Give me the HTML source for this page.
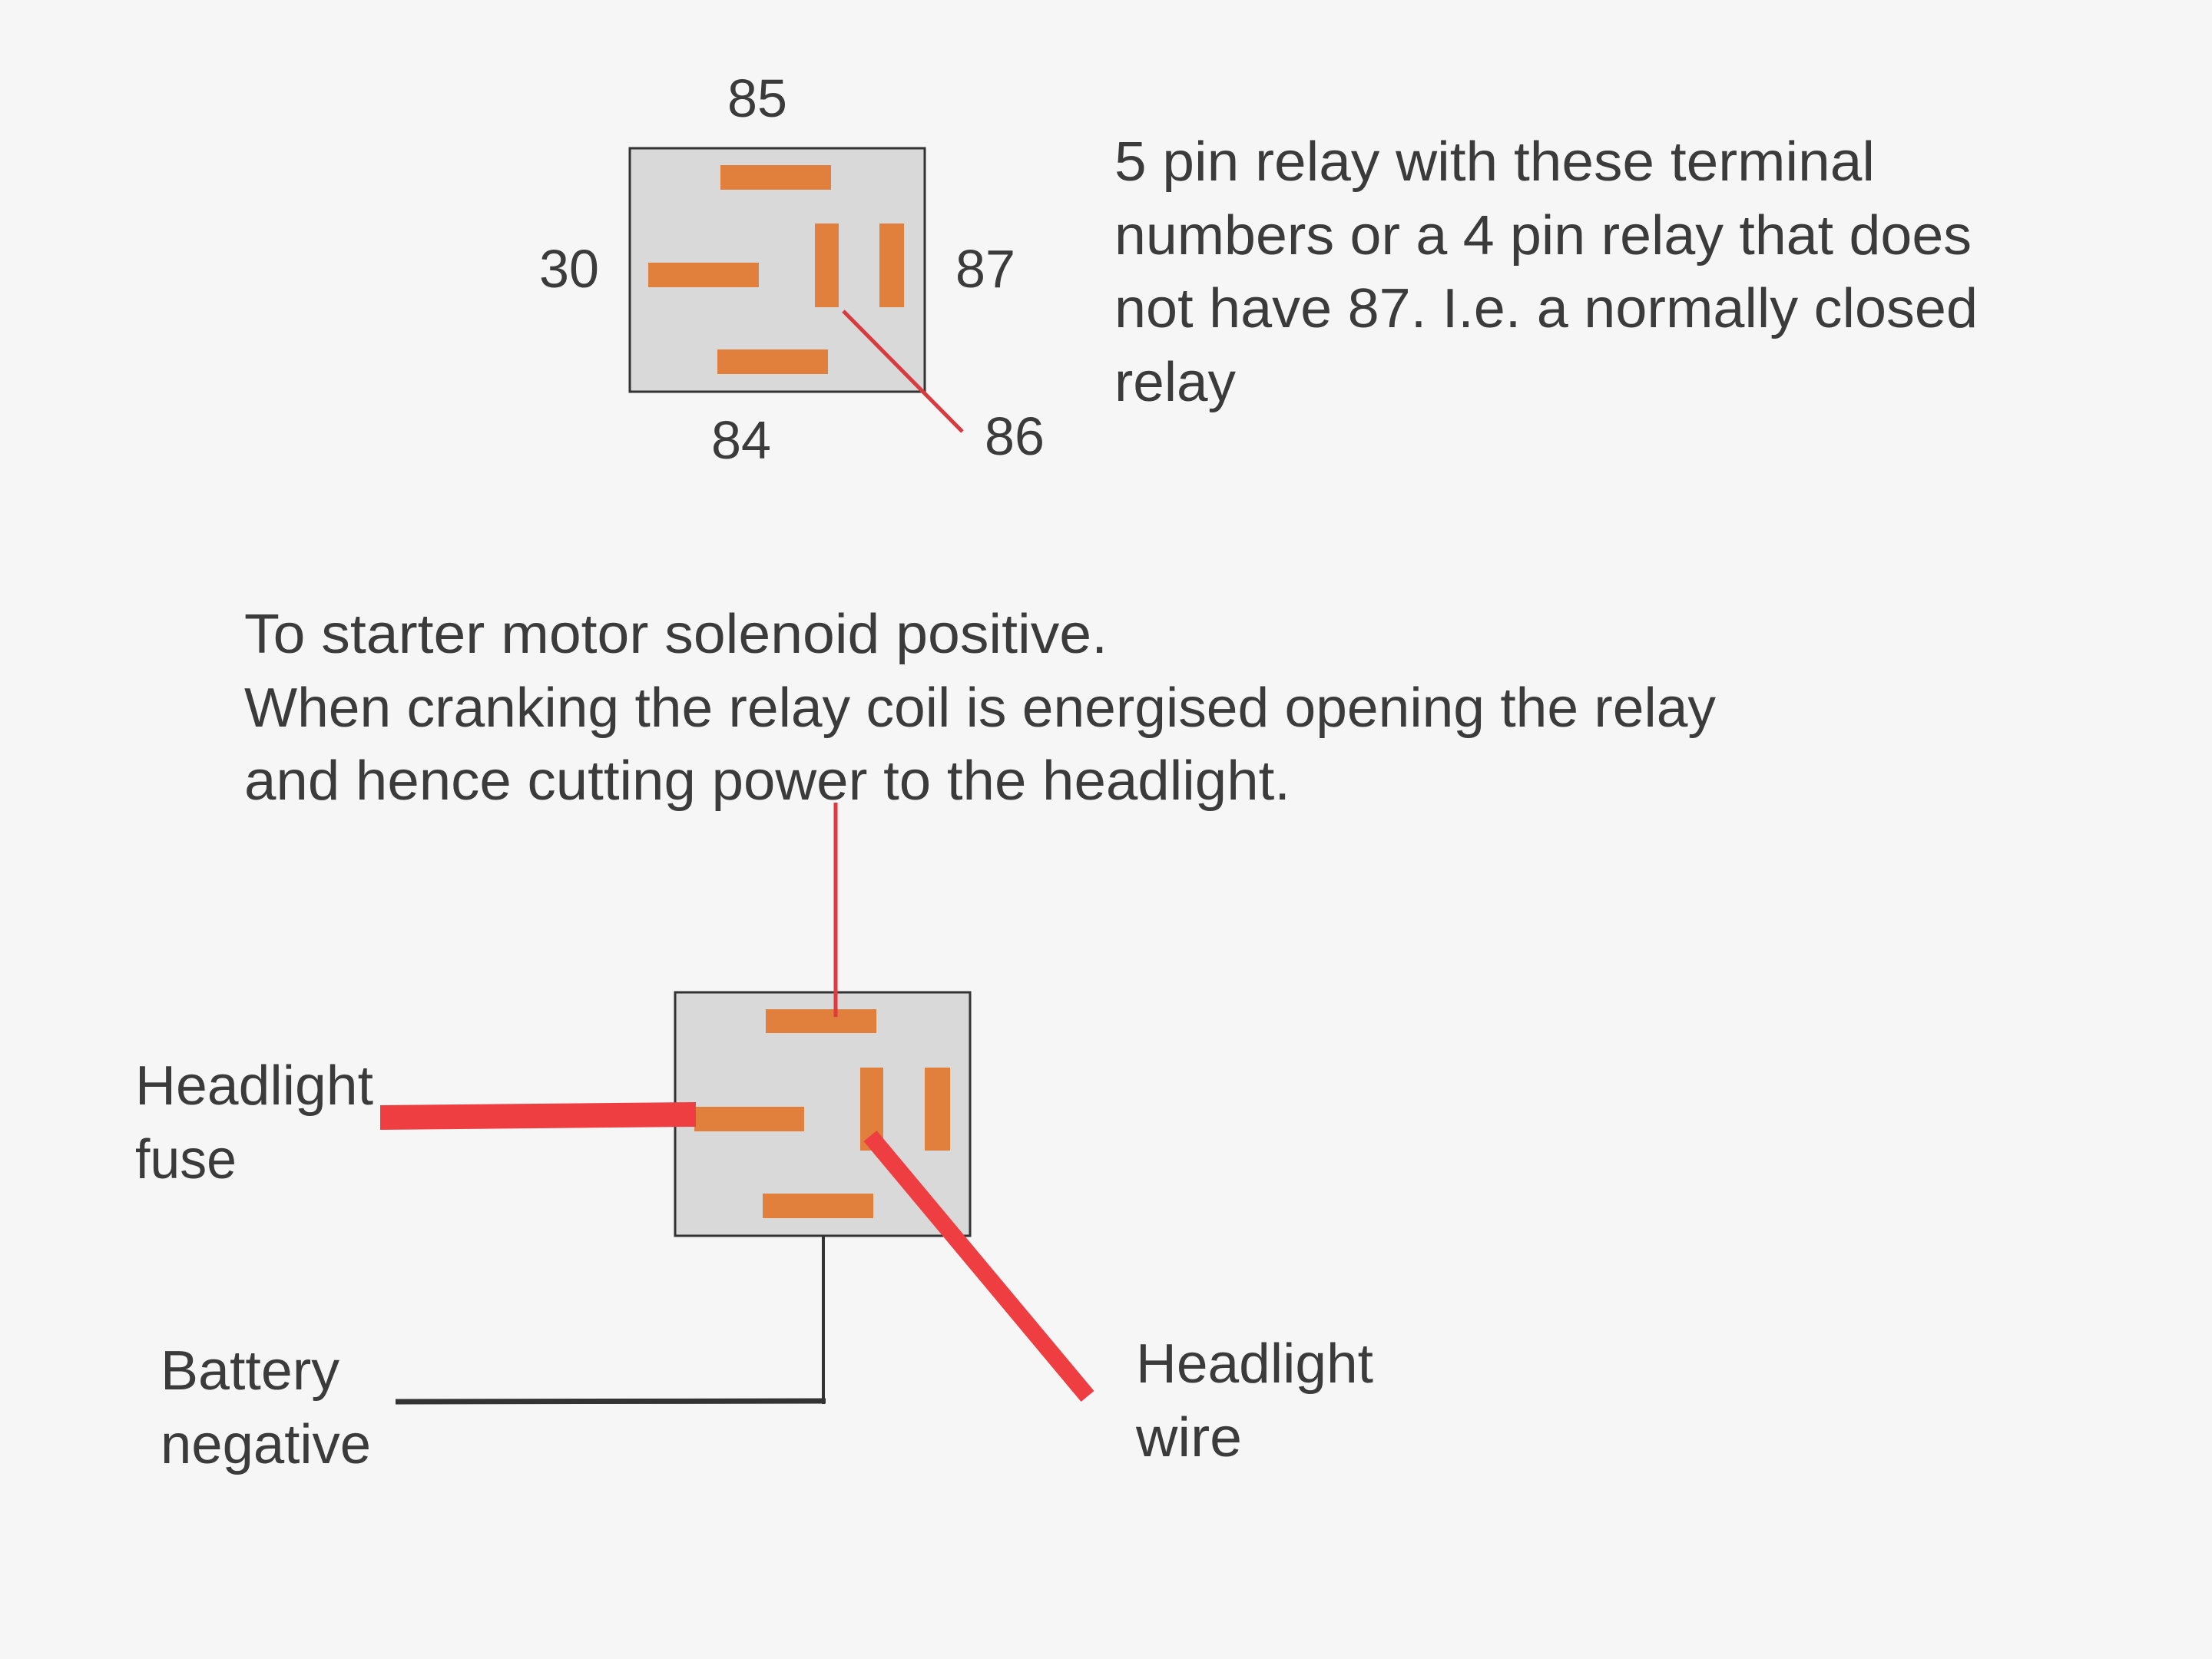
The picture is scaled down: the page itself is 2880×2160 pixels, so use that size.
<!DOCTYPE html>
<html><head><meta charset="utf-8"><style>
html,body{margin:0;padding:0;background:#f6f6f6;}
svg{display:block;}
text{font-family:"Liberation Sans",sans-serif;fill:#3b3b3b;}
</style></head><body>
<svg width="2880" height="2160" viewBox="0 0 2880 2160" xmlns="http://www.w3.org/2000/svg">
<rect width="2880" height="2160" fill="#f6f6f6"/>
<!-- Top relay -->
<rect x="820" y="193" width="384" height="317" fill="#d9d9d9" stroke="#333" stroke-width="3"/>
<g fill="#e0803c">
<rect x="938" y="215" width="144" height="32"/>
<rect x="844" y="342" width="144" height="32"/>
<rect x="1061" y="291" width="31" height="109"/>
<rect x="1145" y="291" width="32" height="109"/>
<rect x="934" y="455" width="144" height="32"/>
</g>
<line x1="1098" y1="405" x2="1253" y2="562" stroke="#d93a3f" stroke-width="5"/>
<g font-size="70">
<text x="986" y="152" text-anchor="middle" textLength="78" lengthAdjust="spacingAndGlyphs">85</text>
<text x="741" y="374" text-anchor="middle" textLength="78" lengthAdjust="spacingAndGlyphs">30</text>
<text x="1283" y="374" text-anchor="middle" textLength="78" lengthAdjust="spacingAndGlyphs">87</text>
<text x="965" y="597" text-anchor="middle" textLength="78" lengthAdjust="spacingAndGlyphs">84</text>
<text x="1321" y="592" text-anchor="middle" textLength="78" lengthAdjust="spacingAndGlyphs">86</text>
</g>
<g font-size="72" lengthAdjust="spacingAndGlyphs">
<text x="1451" y="235" textLength="990" lengthAdjust="spacingAndGlyphs">5 pin relay with these terminal</text>
<text x="1451" y="331" textLength="1116" lengthAdjust="spacingAndGlyphs">numbers or a 4 pin relay that does</text>
<text x="1451" y="426" textLength="1124" lengthAdjust="spacingAndGlyphs">not have 87.  I.e. a normally closed</text>
<text x="1451" y="522" textLength="158" lengthAdjust="spacingAndGlyphs">relay</text>
<text x="318" y="850" textLength="1124" lengthAdjust="spacingAndGlyphs">To starter motor solenoid positive.</text>
<text x="318" y="946" textLength="1916" lengthAdjust="spacingAndGlyphs">When cranking the relay coil is energised opening the relay</text>
<text x="318" y="1041" textLength="1362" lengthAdjust="spacingAndGlyphs">and hence cutting power to the headlight.</text>
</g>
<!-- Bottom relay -->
<rect x="879" y="1292" width="384" height="317" fill="#d9d9d9" stroke="#333" stroke-width="3"/>
<g fill="#e0803c">
<rect x="997" y="1314" width="144" height="31"/>
<rect x="904" y="1441" width="143" height="32"/>
<rect x="1120" y="1390" width="30" height="108"/>
<rect x="1204" y="1390" width="33" height="108"/>
<rect x="993" y="1554" width="144" height="32"/>
</g>
<line x1="1088" y1="1045" x2="1088" y2="1324" stroke="#e0393f" stroke-width="5"/>
<polygon points="495,1439 906,1435 906,1467 495,1471" fill="#ef3e42"/>
<line x1="1133" y1="1479" x2="1416" y2="1818" stroke="#ef3e42" stroke-width="22"/>
<line x1="1072" y1="1609" x2="1072" y2="1828" stroke="#333" stroke-width="4"/>
<line x1="515" y1="1825" x2="1075" y2="1824" stroke="#333" stroke-width="7"/>
<g font-size="72">
<text x="176" y="1438" textLength="310" lengthAdjust="spacingAndGlyphs">Headlight</text>
<text x="176" y="1534" textLength="132" lengthAdjust="spacingAndGlyphs">fuse</text>
<text x="209" y="1809" textLength="233" lengthAdjust="spacingAndGlyphs">Battery</text>
<text x="209" y="1905" textLength="274" lengthAdjust="spacingAndGlyphs">negative</text>
<text x="1479" y="1800" textLength="309" lengthAdjust="spacingAndGlyphs">Headlight</text>
<text x="1479" y="1896" textLength="138" lengthAdjust="spacingAndGlyphs">wire</text>
</g>
</svg>
</body></html>
